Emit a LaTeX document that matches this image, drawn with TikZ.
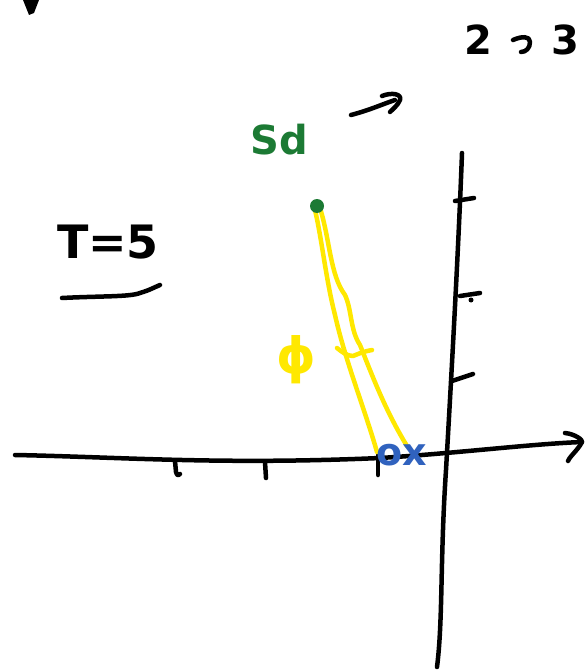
\documentclass[tikz,border=0pt]{standalone}
\usepackage{fontspec}
\setmainfont{DejaVu Sans}
\usepackage{tikz}
\definecolor{skgreen}{RGB}{28,122,52}
\definecolor{skyellow}{RGB}{255,232,0}
\definecolor{skblue}{RGB}{48,98,190}
\begin{document}
\begin{tikzpicture}[x=1pt,y=-1pt,
  pen/.style={line width=4.5pt,line cap=round,line join=round},
  ypen/.style={pen,draw=skyellow,line width=4.5pt},
  hand/.style={inner sep=0pt,anchor=center}]
\useasboundingbox (0,0) rectangle (587,671);
% top-left blob
\fill (23,0) -- (39,0) -- (34,13) -- (29,15) -- cycle;
% x axis
\draw[pen] (15,455) .. controls (120,457) and (220,465) .. (380,458)
  .. controls (460,453) and (530,444) .. (582,442);
\coordinate (xend) at (582,442);
\draw[pen] (565,433) .. controls (575,434) and (583,440) .. (xend)
  .. controls (578,450) and (570,456) .. (568,461);
% y axis
\draw[pen] (462,153) .. controls (458,260) and (450,400) .. (446,470)
  .. controls (440,560) and (443,620) .. (437,667);
% y ticks
\draw[pen] (455,201) -- (474,198);
\draw[pen] (460,296) -- (480,293);
\fill (471,300) circle (2.5pt);
\draw[pen] (452,381) -- (473,374);
% x ticks
\draw[pen] (175,461) -- (176,472) .. controls (177,476) and (179,476) .. (180,474);
\draw[pen] (265,462) -- (266,478);
\draw[pen] (378,455) -- (378,475);
% 2 -> 3
\node[hand,font=\bfseries\fontsize{40}{40}\selectfont] (two) at (478,40) {2};
\node[hand,font=\bfseries\fontsize{40}{40}\selectfont] (three) at (565,40) {3};
\draw[pen] (513,40) .. controls (522,36) and (530,36) .. (530,42)
  .. controls (530,48) and (526,52) .. (521,52);
% arrow near Sd
\draw[pen] (351,115) .. controls (370,110) and (383,104) .. (395,100);
\draw[pen] (382,96) .. controls (392,92) and (402,94) .. (400,100)
  .. controls (398,105) and (393,109) .. (390,112);
% Sd
\node[hand,text=skgreen,font=\bfseries\fontsize{40}{40}\selectfont] (sd) at (279,140) {Sd};
% T=5
\node[hand,font=\bfseries\fontsize{46}{46}\selectfont] (t) at (108,242) {T=5};
\draw[pen] (62,298) .. controls (100,296) and (130,297) .. (140,293)
  .. controls (150,290) and (155,287) .. (160,285);
% yellow pendulum
\draw[ypen] (315,210) .. controls (322,240) and (326,280) .. (335,315)
  .. controls (345,360) and (365,410) .. (377,452);
\draw[ypen] (320,208) .. controls (330,240) and (330,275) .. (345,295)
  .. controls (352,310) and (350,330) .. (360,345)
  .. controls (372,375) and (385,410) .. (407,446);
\draw[ypen] (337,348) .. controls (342,352) and (347,356) .. (353,356)
  .. controls (360,353) and (366,351) .. (372,350);
\node[hand,text=skyellow,font=\bfseries\fontsize{50}{50}\selectfont] (phi) at (296,360) {ϕ};
% green dot
\fill[skgreen] (317,206) circle (7pt);
% ox
\node[hand,text=skblue,font=\bfseries\fontsize{38}{38}\selectfont] (ox) at (402,455) {ox};
\end{tikzpicture}
\end{document}
